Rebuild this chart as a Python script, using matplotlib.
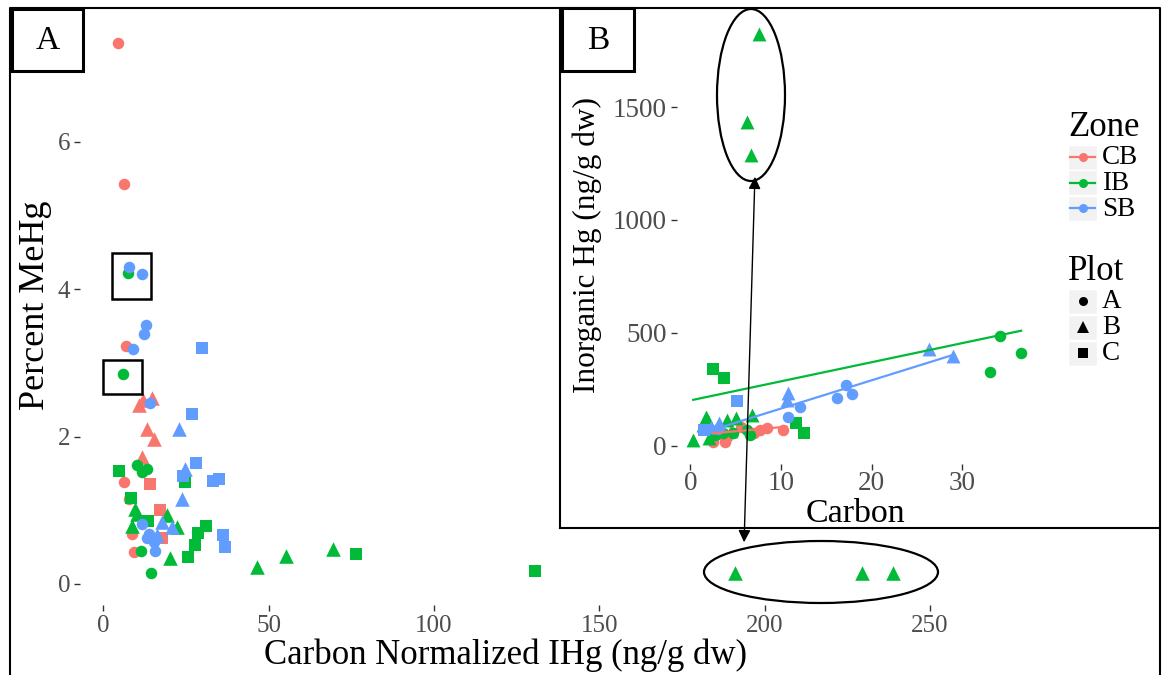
import matplotlib
matplotlib.use('Agg')
import matplotlib.pyplot as plt
from matplotlib.patches import Rectangle, Ellipse, FancyArrowPatch

plt.rcParams['font.family'] = ['Liberation Serif', 'DejaVu Serif']

W, H = 1163, 675

zones = ['CB', 'IB', 'SB']
zone_colors = ['#F8766D', '#00BA38', '#619CFF']
plot_names = ['A', 'B', 'C']
plot_markers = ['o', '^', 's']

# Panel A: carbon normalized IHg (x) vs percent MeHg (y)
main_cb_x = [4.5, 6.1, 6.9, 6.3, 7.7, 8.7, 9.2,
             10.7, 12.0, 14.7, 13.2, 15.2, 11.7,
             14.0, 17.2, 17.7]
main_cb_y = [7.34, 5.43, 3.23, 1.38, 1.15, 0.68, 0.44,
             2.43, 2.50, 2.52, 2.10, 1.97, 1.72,
             1.35, 1.01, 0.62]
main_cb_plot = ['A'] * 7 + ['B'] * 6 + ['C'] * 3

main_ib_x = [7.3, 5.9, 10.2, 11.7, 13.2, 11.4, 14.5,
             9.5, 10.2, 8.6, 19.2, 22.4, 20.2, 46.4, 55.2, 69.3, 191.0, 229.5, 238.7,
             4.6, 8.2, 13.5, 24.6, 31.1, 28.6, 27.8, 25.5, 76.3, 130.7]
main_ib_y = [4.22, 2.85, 1.61, 1.52, 1.56, 0.45, 0.145,
             1.02, 0.95, 0.79, 0.93, 0.77, 0.35, 0.23, 0.38, 0.48, 0.15, 0.15, 0.15,
             1.53, 1.17, 0.85, 1.38, 0.79, 0.69, 0.53, 0.37, 0.41, 0.18]
main_ib_plot = ['A'] * 7 + ['B'] * 12 + ['C'] * 10

main_sb_x = [7.7, 11.6, 13.0, 12.2, 9.0, 14.2, 11.7, 13.7, 13.2, 15.2, 15.7,
             23.0, 24.8, 23.8, 17.7, 20.7, 16.2,
             29.8, 26.8, 28.1, 24.1, 33.3, 35.0, 36.2, 36.7]
main_sb_y = [4.30, 4.20, 3.51, 3.39, 3.19, 2.46, 0.81, 0.68, 0.63, 0.57, 0.45,
             2.10, 1.56, 1.15, 0.84, 0.77, 0.66,
             3.20, 2.30, 1.64, 1.47, 1.40, 1.42, 0.66, 0.50]
main_sb_plot = ['A'] * 11 + ['B'] * 6 + ['C'] * 8

# Panel B: carbon (x) vs inorganic Hg (y)
ins_cb_x = [2.5, 3.8, 4.0, 5.6, 7.0, 7.7, 8.4, 10.2, 3.0, 4.5]
ins_cb_y = [19, 19, 40, 85, 57, 71, 80, 71, 55, 65]
ins_cb_plot = ['A'] * 8 + ['B'] * 2

ins_ib_x = [6.6, 6.2, 4.7, 3.6, 2.7, 34.2, 36.5, 33.1,
            7.56, 6.2, 6.64, 0.3, 1.7, 1.95, 1.4, 4.0, 5.0, 6.75, 2.0,
            2.45, 3.7, 11.7, 12.5]
ins_ib_y = [49, 71, 56, 56, 49, 488, 411, 325,
            1823, 1432, 1288, 27, 130, 110, 93, 115, 122, 137, 35,
            339, 300, 100, 59]
ins_ib_plot = ['A'] * 8 + ['B'] * 11 + ['C'] * 4

ins_sb_x = [12.1, 10.8, 16.2, 17.2, 17.8, 3.0,
            10.8, 10.6, 26.3, 29.0, 3.2, 2.3,
            5.1, 1.5]
ins_sb_y = [174, 130, 211, 271, 231, 75,
            233, 204, 429, 396, 100, 85,
            199, 71]
ins_sb_plot = ['A'] * 6 + ['B'] * 6 + ['C'] * 2

# linear fits per zone
fit_intercept = [47, 201.5, 40.5]
fit_slope = [3.6, 8.45, 12.5]
fit_xmin = [2.5, 0.3, 1.4]
fit_xmax = [10.6, 36.5, 29.0]


def box(l, t, r, b):
    return [l / W, 1 - b / H, (r - l) / W, (b - t) / H]


def draw_points(ax, xs, ys, plots, color, sizes):
    for p, m in zip(plot_names, plot_markers):
        px = [x for x, q in zip(xs, plots) if q == p]
        py = [y for y, q in zip(ys, plots) if q == p]
        ax.scatter(px, py, marker=m, s=sizes[m], color=color, linewidths=0, zorder=3)


def style_axis(ax, size, pad):
    for s in ax.spines.values():
        s.set_visible(False)
    ax.tick_params(labelsize=size, labelcolor='#4D4D4D', color='#333333',
                   length=4, width=1, pad=pad)


fig = plt.figure(figsize=(W / 100, H / 100), dpi=100)

# ---- panel A ----
ax = fig.add_axes(box(80, 17, 1160, 605))
ax.set_facecolor('none')
main_sizes = {'o': 69, '^': 110, 's': 74}
for xs, ys, pl, c in [(main_cb_x, main_cb_y, main_cb_plot, zone_colors[0]),
                      (main_ib_x, main_ib_y, main_ib_plot, zone_colors[1]),
                      (main_sb_x, main_sb_y, main_sb_plot, zone_colors[2])]:
    draw_points(ax, xs, ys, pl, c, main_sizes)
ax.set_xlim(-7.08, 319.6)
ax.set_ylim(-0.285, 7.69)
ax.set_xticks([0, 50, 100, 150, 200, 250])
ax.set_yticks([0, 2, 4, 6])
style_axis(ax, 18, 3)

# ---- panel B (inset) ----
bg = fig.add_axes(box(560, 8, 1160, 528))
bg.set_zorder(2)
bg.set_facecolor('white')
bg.set_xticks([])
bg.set_yticks([])
for k in ['top', 'right']:
    bg.spines[k].set_visible(False)
for k in ['left', 'bottom']:
    bg.spines[k].set_linewidth(1.5)

axi = fig.add_axes(box(677, 14, 1038, 464))
axi.set_zorder(3)
axi.set_facecolor('none')
ins_sizes = {'o': 69, '^': 100, 's': 74}
for i, (xs, ys, pl) in enumerate([(ins_cb_x, ins_cb_y, ins_cb_plot),
                                  (ins_ib_x, ins_ib_y, ins_ib_plot),
                                  (ins_sb_x, ins_sb_y, ins_sb_plot)]):
    draw_points(axi, xs, ys, pl, zone_colors[i], ins_sizes)
    lx = [fit_xmin[i], fit_xmax[i]]
    ly = [fit_intercept[i] + fit_slope[i] * v for v in lx]
    axi.plot(lx, ly, color=zone_colors[i], lw=1.6, zorder=4)
axi.set_xlim(-1.49, 38.36)
axi.set_ylim(-80, 1911.6)
axi.set_xticks([0, 10, 20, 30])
axi.set_yticks([0, 500, 1000, 1500])
style_axis(axi, 19.5, 3.5)
axi.tick_params(axis='x', pad=1)

# ---- overlay in pixel coordinates ----
lax = fig.add_axes([0, 0, 1, 1])
lax.set_zorder(5)
lax.set_xlim(0, W)
lax.set_ylim(H, 0)
lax.axis('off')

lax.text(505, 655, 'Carbon Normalized IHg (ng/g dw)', fontsize=25, ha='center', va='center')
lax.text(36, 305, 'Percent MeHg', fontsize=26, ha='center', va='center', rotation=90)
lax.text(855, 514, 'Carbon', fontsize=24.5, ha='center', va='center')
lax.text(587, 245, 'Inorganic Hg (ng/g dw)', fontsize=22.5, ha='center', va='center', rotation=90)

# outer frame
lax.plot([10, 10, 1160, 1160], [676, 8, 8, 676], color='black', lw=1.5, clip_on=False)

# panel letters
for l, t, r, b, s in [(12, 9, 83, 71, 'A'), (562, 8, 634, 71, 'B')]:
    lax.add_patch(Rectangle((l, t), r - l, b - t, fill=False, ec='black', lw=2.2))
    lax.text((l + r) / 2, (t + b) / 2 + 1, s, fontsize=24, ha='center', va='center')

# highlight boxes
lax.add_patch(Rectangle((112, 253), 39, 46, fill=False, ec='black', lw=1.8))
lax.add_patch(Rectangle((103, 360), 39, 34, fill=False, ec='black', lw=1.8))

# ellipses + arrow
lax.add_patch(Ellipse((751, 95), 68, 172, fill=False, ec='black', lw=1.6))
lax.add_patch(Ellipse((821, 572), 234, 62, fill=False, ec='black', lw=1.6))
lax.add_patch(FancyArrowPatch((744, 545), (755, 174), arrowstyle='<|-|>',
                              mutation_scale=18, color='black', lw=1))

# legend
leg_x = 1068
lax.text(leg_x, 128, 'Zone', fontsize=25, ha='left', va='center')
for i, (z, c) in enumerate(zip(zones, zone_colors)):
    yc = 157 + i * 25.5
    lax.add_patch(Rectangle((leg_x, yc - 12.5), 29, 25, fc='#F2F2F2', ec='white', lw=1))
    lax.plot([leg_x + 2, leg_x + 27], [yc, yc], color=c, lw=1.6)
    lax.plot(leg_x + 14.5, yc, 'o', color=c, ms=6.5, mew=0)
    lax.text(leg_x + 34, yc + 1, z, fontsize=19.5, ha='left', va='center')

lax.text(leg_x, 272, 'Plot', fontsize=25, ha='left', va='center')
for i, (p, m) in enumerate(zip(plot_names, plot_markers)):
    yc = 301 + i * 26
    lax.add_patch(Rectangle((leg_x, yc - 12.5), 29, 25, fc='#F2F2F2', ec='white', lw=1))
    ms = {'o': 6.5, '^': 8.5, 's': 6.5}[m]
    lax.plot(leg_x + 14.5, yc, m, color='black', ms=ms, mew=0)
    lax.text(leg_x + 34, yc + 1, p, fontsize=19.5, ha='left', va='center')

fig.savefig('out.png', dpi=100)
plt.close(fig)
